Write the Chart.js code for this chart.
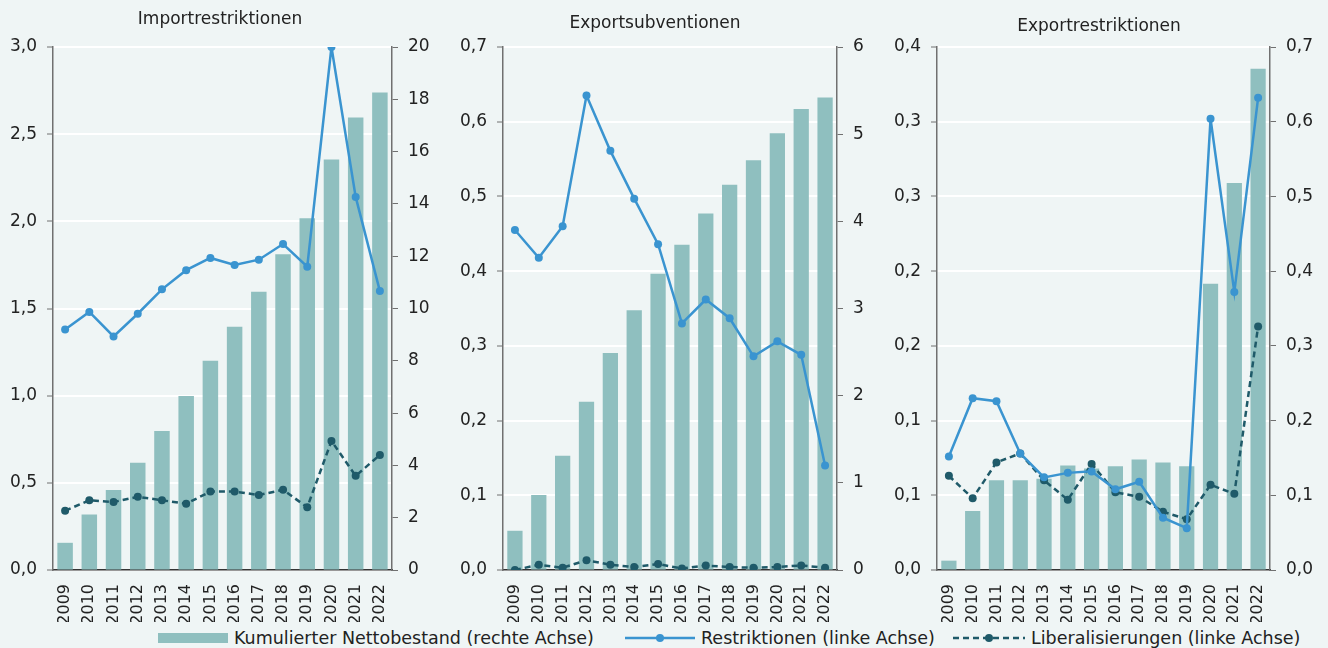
<!DOCTYPE html>
<html>
<head>
<meta charset="utf-8">
<script src="https://cdn.jsdelivr.net/npm/chart.js@4.4.1/dist/chart.umd.min.js"></script>
<style>
	html, body { margin: 0; padding: 0; background: #eff5f5; }
	body { width: 1328px; height: 648px; position: relative; overflow: hidden; font-family: "DejaVu Sans", sans-serif; color: #222; }
	.panel { position: absolute; top: 0; }
	.legend-item { position: absolute; top: 627px; height: 22px; display: flex; align-items: center; font-size: 17.5px; white-space: nowrap; }
	.legend-item svg { margin-right: 6px; }
</style>
</head>
<body>
<div class="panel" style="left:0px"><canvas id="c1" width="440" height="622"></canvas></div>
<div class="panel" style="left:440px"><canvas id="c2" width="430" height="622"></canvas></div>
<div class="panel" style="left:870px"><canvas id="c3" width="458" height="622"></canvas></div>

<div class="legend-item" style="left:158px">
	<svg width="70" height="12"><rect x="0" y="1" width="70" height="10" fill="#8fbfbf"/></svg>
	<span>Kumulierter Nettobestand (rechte Achse)</span>
</div>
<div class="legend-item" style="left:625px">
	<svg width="70" height="12"><line x1="0" y1="6" x2="70" y2="6" stroke="#3a94d0" stroke-width="2.5"/><circle cx="35" cy="6" r="4" fill="#3a94d0"/></svg>
	<span>Restriktionen (linke Achse)</span>
</div>
<div class="legend-item" style="left:953px">
	<svg width="72" height="12"><line x1="0" y1="6" x2="72" y2="6" stroke="#1f5a69" stroke-width="2.5" stroke-dasharray="6 4"/><circle cx="36" cy="6" r="4" fill="#1f5a69"/></svg>
	<span>Liberalisierungen (linke Achse)</span>
</div>

<script>
"use strict";

const years = ['2009', '2010', '2011', '2012', '2013', '2014', '2015', '2016', '2017', '2018', '2019', '2020', '2021', '2022'];

// Importrestriktionen
const importRestr = [1.38, 1.48, 1.34, 1.47, 1.61, 1.72, 1.79, 1.75, 1.78, 1.87, 1.74, 3.0, 2.14, 1.60];
const importLib = [0.34, 0.40, 0.39, 0.42, 0.40, 0.38, 0.45, 0.45, 0.43, 0.46, 0.36, 0.74, 0.54, 0.66];
const importStock = [1.04, 2.12, 3.06, 4.1, 5.32, 6.65, 8.0, 9.3, 10.64, 12.07, 13.45, 15.7, 17.3, 18.26];

// Exportsubventionen
const subvRestr = [0.455, 0.418, 0.46, 0.635, 0.561, 0.497, 0.436, 0.330, 0.362, 0.337, 0.286, 0.306, 0.288, 0.140];
const subvLib = [0.0, 0.007, 0.003, 0.013, 0.007, 0.004, 0.008, 0.002, 0.006, 0.004, 0.003, 0.004, 0.006, 0.003];
const subvStock = [0.45, 0.86, 1.31, 1.93, 2.49, 2.98, 3.40, 3.73, 4.09, 4.42, 4.70, 5.01, 5.29, 5.42];

// Exportrestriktionen
const exportRestr = [0.076, 0.115, 0.113, 0.078, 0.062, 0.065, 0.066, 0.054, 0.059, 0.035, 0.028, 0.302, 0.186, 0.316];
const exportLib = [0.063, 0.048, 0.072, 0.078, 0.060, 0.047, 0.071, 0.052, 0.049, 0.039, 0.034, 0.057, 0.051, 0.163];
const exportStock = [0.0125, 0.079, 0.120, 0.120, 0.122, 0.140, 0.136, 0.139, 0.148, 0.144, 0.139, 0.383, 0.518, 0.671];

const titles = ['Importrestriktionen', 'Exportsubventionen', 'Exportrestriktionen'];
const leftMax = [3, 0.7, 0.35];
const leftStep = [0.5, 0.1, 0.05];
const rightMax = [20, 6, 0.7];
const rightStep = [2, 1, 0.1];
const rightDecimals = [0, 0, 1];


function eventHandler() {

	const fontFam = '"DejaVu Sans", sans-serif';
	const axisGray = '#707070';

	function comma(v, dec) {
		let r = Math.round(v * Math.pow(10, dec) + 1e-9) / Math.pow(10, dec);
		return r.toFixed(dec).replace('.', ',');
	}

	// plot box per panel: left axis width, right axis width, title centre
	let boxes = [
		{ left: 53, right: 48, titleY: 20 },
		{ left: 63, right: 33, titleY: 24 },
		{ left: 67, right: 58, titleY: 27 },
	];

	let panels = [
		[importRestr, importLib, importStock],
		[subvRestr, subvLib, subvStock],
		[exportRestr, exportLib, exportStock],
	];

	panels.forEach((p, i) => {
		let box = boxes[i];
		let padTop = box.titleY - 10.2;
		let padBottom = 47 - padTop - 20.4;

		new Chart(document.getElementById('c' + (i + 1)), {
			type: 'bar',
			data: {
				labels: years,
				datasets: [
					{
						type: 'line',
						label: 'Restriktionen (linke Achse)',
						data: p[0],
						yAxisID: 'y',
						borderColor: '#3a94d0',
						backgroundColor: '#3a94d0',
						borderWidth: 2.5,
						pointRadius: 4,
						pointBorderWidth: 0,
						tension: 0,
						order: 1
					},
					{
						type: 'line',
						label: 'Liberalisierungen (linke Achse)',
						data: p[1],
						yAxisID: 'y',
						borderColor: '#1f5a69',
						backgroundColor: '#1f5a69',
						borderWidth: 2.5,
						borderDash: [6, 4],
						pointRadius: 4,
						pointBorderWidth: 0,
						tension: 0,
						order: 2
					},
					{
						type: 'bar',
						label: 'Kumulierter Nettobestand (rechte Achse)',
						data: p[2],
						yAxisID: 'y1',
						backgroundColor: '#8fbfbf',
						barPercentage: 0.64,
						categoryPercentage: 1,
						order: 3
					}
				]
			},
			options: {
				responsive: false,
				devicePixelRatio: 1,
				animation: false,
				layout: { padding: 0 },
				plugins: {
					legend: { display: false },
					tooltip: { enabled: false },
					title: {
						display: true,
						text: titles[i],
						color: '#222',
						font: { family: fontFam, size: 17, weight: 'normal' },
						padding: { top: padTop, bottom: padBottom }
					}
				},
				scales: {
					x: {
						offset: true,
						grid: { display: false },
						border: { display: true, color: '#333', width: 1.5 },
						ticks: {
							color: '#222',
							font: { family: fontFam, size: 16 },
							minRotation: 90,
							maxRotation: 90,
							padding: 6
						},
						afterFit(scale) { scale.height = 52; }
					},
					y: {
						position: 'left',
						min: 0,
						max: leftMax[i],
						grid: { color: '#ffffff', lineWidth: 2, tickColor: axisGray, tickLength: 6, tickWidth: 1 },
						border: { color: axisGray, width: 1.5 },
						ticks: {
							stepSize: leftStep[i],
							color: '#222',
							padding: 10,
							font: { family: fontFam, size: 17 },
							callback: (v) => comma(v, 1)
						},
						afterFit(scale) { scale.width = box.left; }
					},
					y1: {
						position: 'right',
						min: 0,
						max: rightMax[i],
						grid: { drawOnChartArea: false, tickColor: axisGray, tickLength: 6, tickWidth: 1 },
						border: { color: axisGray, width: 1.5 },
						ticks: {
							stepSize: rightStep[i],
							color: '#222',
							padding: 10,
							font: { family: fontFam, size: 17 },
							callback: (v) => comma(v, rightDecimals[i])
						},
						afterFit(scale) { scale.width = box.right; }
					}
				}
			}
		});
	});
};
if (document.readyState !== 'loading') {
	eventHandler();
} else {
	document.addEventListener('DOMContentLoaded', eventHandler);
}
</script>
</body>
</html>
